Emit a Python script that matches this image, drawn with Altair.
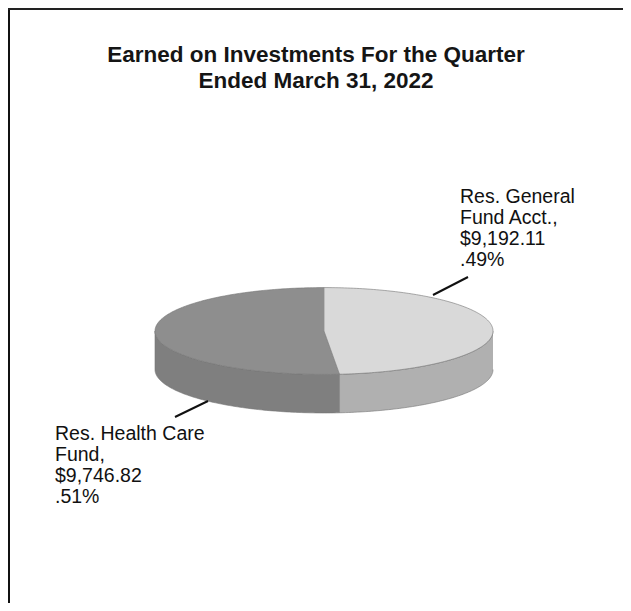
import math
import altair as alt
import pandas as pd

# ---- data ----
title_lines = ["Earned on Investments For the Quarter", "Ended March 31, 2022"]
categories = ["Res. General Fund Acct.", "Res. Health Care Fund"]
label_name_lines = [["Res. General", "Fund Acct.,"], ["Res. Health Care", "Fund,"]]
values = [9192.11, 9746.82]
pct_labels = [".49%", ".51%"]

# ---- style / layout ----
TOP_COLORS = ["#d9d9d9", "#8e8e8e"]
SIDE_COLORS = ["#b0b0b0", "#7f7f7f"]
EDGE = "#767676"
W, H = 615, 595
CX, CY, RX = 316, 323, 169      # pie centre (chart px) and horizontal radius
RATIO = 0.257                   # vertical/horizontal radius of the tilted top face
DEPTH = 0.228                   # thickness of the pie (in x-radius units)
FONT = "Liberation Sans"

# ---- build the 3-D pie geometry from the values ----
total = sum(values)
rows = []
start = 0.0
for i, (cat, v) in enumerate(zip(categories, values)):
    a0 = start
    a1 = start + 360.0 * v / total
    start = a1
    n = max(2, int(abs(a1 - a0)))
    angs = [a0 + (a1 - a0) * k / n for k in range(n + 1)]
    # side (visible front half: 90..270 degrees clockwise from top)
    b0, b1 = max(a0, 90.0), min(a1, 270.0)
    if b0 < b1:
        m = max(2, int(b1 - b0))
        sa = [b0 + (b1 - b0) * k / m for k in range(m + 1)]
        pts = [(math.sin(math.radians(a)), RATIO * math.cos(math.radians(a))) for a in sa]
        pts += [(math.sin(math.radians(a)), RATIO * math.cos(math.radians(a)) - DEPTH) for a in reversed(sa)]
        for j, (u, w) in enumerate(pts):
            rows.append({"part": f"{i}_side", "u": u, "w": w, "o": j})
    # top face
    pts = [(0.0, 0.0)] + [(math.sin(math.radians(a)), RATIO * math.cos(math.radians(a))) for a in angs]
    for j, (u, w) in enumerate(pts):
        rows.append({"part": f"{i}_top", "u": u, "w": w, "o": j})

geo = pd.DataFrame(rows)
part_domain = [f"{i}_side" for i in range(len(values))] + [f"{i}_top" for i in range(len(values))]
part_range = SIDE_COLORS + TOP_COLORS

xs = alt.Scale(domain=[-CX / RX, (W - CX) / RX], nice=False, zero=False)
ys = alt.Scale(domain=[-(H - CY) / RX, CY / RX], nice=False, zero=False)

pie = alt.Chart(geo).mark_line(stroke=EDGE, strokeWidth=0.6, strokeJoin="round").encode(
    x=alt.X("u:Q", scale=xs, axis=None),
    y=alt.Y("w:Q", scale=ys, axis=None),
    fill=alt.Fill("part:N", scale=alt.Scale(domain=part_domain, range=part_range), legend=None),
    detail="part:N",
    order=alt.Order("o:Q"),
)

# ---- labels ----
lab_df = pd.DataFrame({
    "cat": categories,
    "text": ["\n".join(label_name_lines[i] + [f"${values[i]:,.2f}", pct_labels[i]]) for i in range(len(values))],
    "lx": [452, 47],
    "ly": [195, 432],
})
labels = alt.Chart(lab_df).mark_text(
    align="left", baseline="alphabetic", fontSize=19.5, font=FONT, lineBreak="\n",
    lineHeight=21, color="#111111"
).encode(x=alt.X("lx:Q", scale=None), y=alt.Y("ly:Q", scale=None), text="text:N")

lead_df = pd.DataFrame({"x": [425, 167], "y": [287, 409], "x2": [460, 200], "y2": [269, 393]})
leaders = alt.Chart(lead_df).mark_rule(color="#111111", strokeWidth=2).encode(
    x=alt.X("x:Q", scale=None), y=alt.Y("y:Q", scale=None),
    x2="x2:Q", y2="y2:Q",
)

title_df = pd.DataFrame({"t": ["\n".join(title_lines)]})
title = alt.Chart(title_df).mark_text(
    align="center", baseline="alphabetic", fontSize=22.5, fontWeight="bold", font=FONT,
    lineBreak="\n", lineHeight=25.6, color="#151515"
).encode(x=alt.value(308), y=alt.value(54), text="t:N")

one = pd.DataFrame({"k": [0]})
border_left = alt.Chart(one).mark_rule(color="#111111", strokeWidth=2).encode(
    x=alt.value(1), y=alt.value(0), y2=alt.value(H))
border_top = alt.Chart(one).mark_rule(color="#222222", strokeWidth=2).encode(
    x=alt.value(0), x2=alt.value(W), y=alt.value(1))

chart = alt.layer(pie, leaders, labels, title, border_left, border_top).properties(
    width=W, height=H, autosize=alt.AutoSizeParams(type="none"), padding=0,
    background="white",
).configure_view(stroke=None)

chart.save("out.html", embed_options={"renderer": "svg", "actions": False})
